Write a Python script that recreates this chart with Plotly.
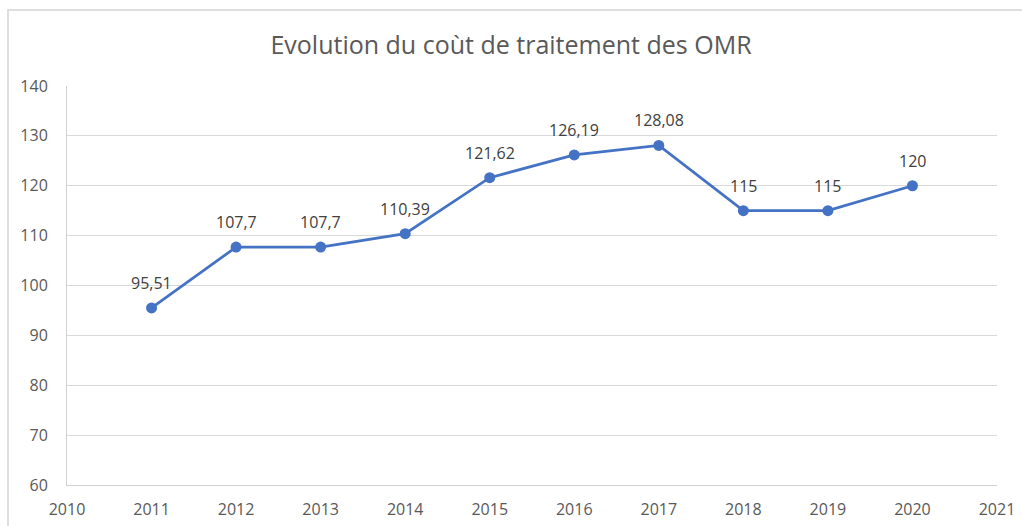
import plotly.graph_objects as go

years = [2011, 2012, 2013, 2014, 2015, 2016, 2017, 2018, 2019, 2020]
costs = [95.51, 107.7, 107.7, 110.39, 121.62, 126.19, 128.08, 115, 115, 120]
labels = ["95,51", "107,7", "107,7", "110,39", "121,62", "126,19", "128,08", "115", "115", "120"]
x_ticks = list(range(2010, 2022))
y_ticks = list(range(60, 141, 10))

fig = go.Figure()
fig.add_trace(go.Scatter(
    x=years, y=costs, mode="lines+markers",
    line=dict(color="#4472C4", width=2.75),
    marker=dict(color="#4472C4", size=11),
    cliponaxis=False, hoverinfo="x+y",
))
for xv, yv, lab in zip(years, costs, labels):
    fig.add_annotation(x=xv, y=yv, text=lab, showarrow=False, yshift=25,
                       font=dict(size=16, color="#404040"))

L, R, T, B = 67, 25, 86, 41
W, H = 1022, 526
pw, ph = W - L - R, H - T - B

fig.update_layout(
    width=W, height=H,
    margin=dict(l=L, r=R, t=T, b=B, autoexpand=False),
    paper_bgcolor="white", plot_bgcolor="white",
    showlegend=False,
    font=dict(family="Open Sans, Liberation Sans, sans-serif", color="#595959", size=16),
    title=dict(text="Evolution du coùt de traitement des OMR", x=0.5, xanchor="center",
               y=1 - 45 / H, yanchor="middle",
               font=dict(size=25, color="#595959")),
    xaxis=dict(range=[2010, 2021], tickvals=x_ticks, ticktext=[str(v) for v in x_ticks],
               showgrid=False, zeroline=False, showline=True, linecolor="#d0d0d0", linewidth=1,
               ticks="outside", ticklen=10, tickcolor="rgba(0,0,0,0)", automargin=False,
               tickfont=dict(size=16, color="#595959")),
    yaxis=dict(range=[60, 140], tickvals=y_ticks, showgrid=True, gridcolor="#d9d9d9", gridwidth=1,
               zeroline=False, showline=True, linecolor="#d0d0d0", linewidth=1,
               ticks="outside", ticklen=15, tickcolor="rgba(0,0,0,0)", automargin=False,
               tickfont=dict(size=16, color="#595959")),
    shapes=[dict(type="rect", xref="paper", yref="paper",
                 x0=(8 - L) / pw, x1=(1040 - L) / pw,
                 y0=-(B + 10) / ph, y1=(H - B - 10) / ph,
                 line=dict(color="#dedede", width=2), fillcolor="rgba(0,0,0,0)", layer="below")],
)

fig.write_html("out.html", config={"displayModeBar": False},
               post_script="document.body.style.margin='0';")
